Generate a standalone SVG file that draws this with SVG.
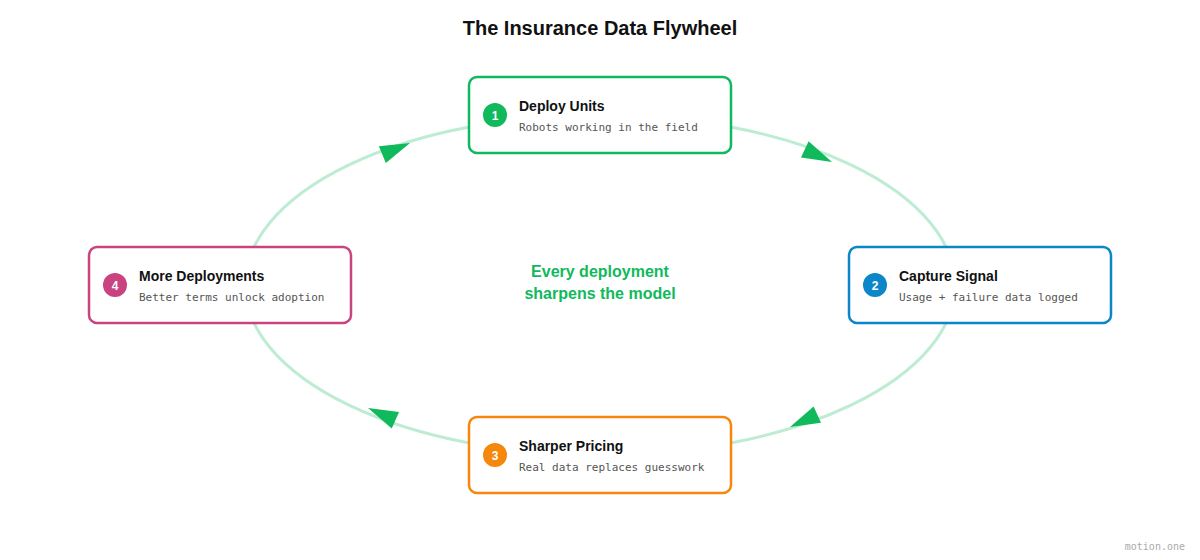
<svg xmlns="http://www.w3.org/2000/svg" width="1200" height="560" viewBox="0 0 1200 560">
  <style>
    .title { font-family: "Liberation Sans", Arial, sans-serif; font-weight: bold; font-size: 20px; fill: #111; }
    .box { fill: #fff; stroke-width: 2.5; }
    .name { font-family: "Liberation Sans", Arial, sans-serif; font-weight: bold; font-size: 14px; fill: #111; }
    .desc { font-family: "DejaVu Sans Mono", "Liberation Mono", monospace; font-size: 11px; fill: #555; }
    .num { font-family: "Liberation Sans", Arial, sans-serif; font-weight: bold; font-size: 12px; fill: #fff; text-anchor: middle; }
    .center { font-family: "Liberation Sans", Arial, sans-serif; font-weight: bold; font-size: 16px; fill: #10b95b; text-anchor: middle; }
    .ring { fill: none; stroke: #bdecd3; stroke-width: 3; }
    .head { fill: #10b95b; }
    .credit { font-family: "DejaVu Sans Mono", "Liberation Mono", monospace; font-size: 10px; fill: #aaa; text-anchor: end; }
  </style>
  <defs>
    <polygon id="arrowhead" points="0,0 -30,-9 -30,9"/>
  </defs>

  <rect width="1200" height="560" fill="#fff"/>
  <text class="title" x="600" y="35" text-anchor="middle">The Insurance Data Flywheel</text>

  <!-- cycle ring and direction arrows -->
  <g id="connectors">
    <ellipse class="ring" cx="600" cy="285" rx="355" ry="170"/>
    <use href="#arrowhead" class="head" transform="translate(410,143) rotate(-22.8)"/>
    <use href="#arrowhead" class="head" transform="translate(832,162) rotate(24.9)"/>
    <use href="#arrowhead" class="head" transform="translate(790,427) rotate(155.6)"/>
    <use href="#arrowhead" class="head" transform="translate(368,408) rotate(204)"/>
  </g>

  <text class="center" x="600" y="277">Every deployment</text>
  <text class="center" x="600" y="299">sharpens the model</text>

  <g id="node-deploy">
    <rect class="box" x="469" y="77" width="262" height="76" rx="8" stroke="#10b95b"/>
    <circle cx="495" cy="115" r="12" fill="#10b95b"/>
    <text class="num" x="495" y="119.5">1</text>
    <text class="name" x="519" y="111">Deploy Units</text>
    <text class="desc" x="519" y="131">Robots working in the field</text>
  </g>

  <g id="node-capture">
    <rect class="box" x="849" y="247" width="262" height="76" rx="8" stroke="#0b86c8"/>
    <circle cx="875" cy="285" r="12" fill="#0b86c8"/>
    <text class="num" x="875" y="289.5">2</text>
    <text class="name" x="899" y="281">Capture Signal</text>
    <text class="desc" x="899" y="301">Usage + failure data logged</text>
  </g>

  <g id="node-pricing">
    <rect class="box" x="469" y="417" width="262" height="76" rx="8" stroke="#f5880c"/>
    <circle cx="495" cy="455" r="12" fill="#f5880c"/>
    <text class="num" x="495" y="459.5">3</text>
    <text class="name" x="519" y="451">Sharper Pricing</text>
    <text class="desc" x="519" y="471">Real data replaces guesswork</text>
  </g>

  <g id="node-more">
    <rect class="box" x="89" y="247" width="262" height="76" rx="8" stroke="#c8437f"/>
    <circle cx="115" cy="285" r="12" fill="#c8437f"/>
    <text class="num" x="115" y="289.5">4</text>
    <text class="name" x="139" y="281">More Deployments</text>
    <text class="desc" x="139" y="301">Better terms unlock adoption</text>
  </g>

  <text class="credit" x="1185" y="550">motion.one</text>
</svg>
